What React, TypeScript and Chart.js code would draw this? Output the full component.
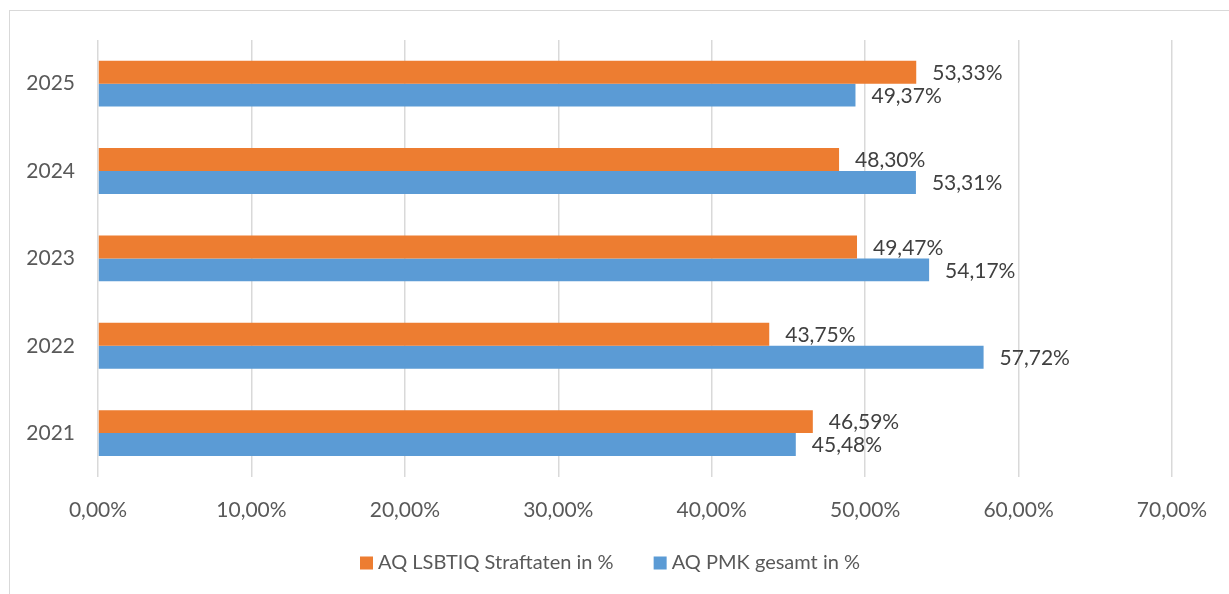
import React, { useEffect, useRef } from "react";
import { Chart, registerables } from "chart.js";

Chart.register(...registerables);

const categories = ["2025", "2024", "2023", "2022", "2021"];
const lsbtiqValues = [53.33, 48.3, 49.47, 43.75, 46.59];
const pmkValues = [49.37, 53.31, 54.17, 57.72, 45.48];
const seriesNames = ["AQ LSBTIQ Straftaten in %", "AQ PMK gesamt in %"];
const xTicks = [0, 10, 20, 30, 40, 50, 60, 70];

const FONT = "Lato, 'Open Sans', sans-serif";
const fmt = (v: number) => v.toFixed(2).replace(".", ",") + "%";

const dataLabels = {
  id: "dataLabels",
  afterDatasetsDraw(chart: any) {
    const ctx = chart.ctx;
    ctx.save();
    ctx.font = `21px ${FONT}`;
    ctx.fillStyle = "#404040";
    ctx.textAlign = "left";
    ctx.textBaseline = "middle";
    chart.data.datasets.forEach((ds: any, di: number) => {
      const meta = chart.getDatasetMeta(di);
      meta.data.forEach((el: any, i: number) => {
        ctx.fillText(fmt(ds.data[i]), el.x + 16, el.y + 1);
      });
    });
    ctx.restore();
  },
};

const bottomLegend = {
  id: "bottomLegend",
  afterDraw(chart: any) {
    const ctx = chart.ctx;
    ctx.save();
    ctx.font = `20px ${FONT}`;
    ctx.textBaseline = "middle";
    ctx.textAlign = "left";
    const box = 13;
    const gapText = 5;
    const gapItem = 40;
    const items = chart.data.datasets.map((ds: any) => ({
      text: ds.label,
      color: ds.backgroundColor,
      w: ctx.measureText(ds.label).width,
    }));
    const total =
      items.reduce((s: number, it: any) => s + box + gapText + it.w, 0) +
      gapItem * (items.length - 1);
    let x = 610 - total / 2;
    const y = 563;
    items.forEach((it: any) => {
      ctx.fillStyle = it.color;
      ctx.fillRect(x, y - box / 2, box, box);
      ctx.fillStyle = "#595959";
      ctx.fillText(it.text, x + box + gapText, y);
      x += box + gapText + it.w + gapItem;
    });
    ctx.restore();
  },
};

export default function App() {
  const ref = useRef<HTMLCanvasElement>(null);
  useEffect(() => {
    if (!ref.current) return;
    const chart = new Chart(ref.current, {
      type: "bar",
      data: {
        labels: categories,
        datasets: [
          {
            label: seriesNames[0],
            data: lsbtiqValues,
            backgroundColor: "#ED7D31",
            barPercentage: 1,
            categoryPercentage: 0.525,
          },
          {
            label: seriesNames[1],
            data: pmkValues,
            backgroundColor: "#5B9BD5",
            barPercentage: 1,
            categoryPercentage: 0.525,
          },
        ],
      },
      options: {
        indexAxis: "y",
        animation: false,
        responsive: false,
        maintainAspectRatio: false,
        layout: { padding: { top: 40, right: 57, left: 0, bottom: 50 } },
        scales: {
          x: {
            min: 0,
            max: 70,
            afterBuildTicks(axis: any) {
              axis.ticks = xTicks.map((v) => ({ value: v }));
            },
            grid: { color: "#d9d9d9", lineWidth: 1.5, drawTicks: false },
            border: { display: false },
            ticks: {
              padding: 21,
              color: "#595959",
              font: { family: FONT, size: 21 },
              callback: (v: any) => fmt(Number(v)),
              maxRotation: 0,
            },
          },
          y: {
            grid: { display: false },
            border: { display: false },
            afterFit(axis: any) {
              axis.width = 98;
            },
            ticks: {
              padding: 15,
              color: "#595959",
              font: { family: FONT, size: 21 },
            },
          },
        },
        plugins: {
          legend: { display: false },
          tooltip: { enabled: false },
        },
      },
      plugins: [dataLabels, bottomLegend],
    } as any);
    return () => chart.destroy();
  }, []);

  return (
    <div
      style={{
        position: "fixed",
        left: 0,
        top: 0,
        width: 1229,
        height: 594,
        overflow: "hidden",
        background: "#fff",
      }}
    >
      <div
        style={{
          position: "absolute",
          left: 9,
          top: 10,
          width: 1400,
          height: 800,
          borderTop: "1.5px solid #d9d9d9",
          borderLeft: "1.5px solid #d9d9d9",
        }}
      />
      <canvas
        ref={ref}
        width={1229}
        height={594}
        style={{ position: "absolute", left: 0, top: 0, width: 1229, height: 594 }}
      />
    </div>
  );
}
